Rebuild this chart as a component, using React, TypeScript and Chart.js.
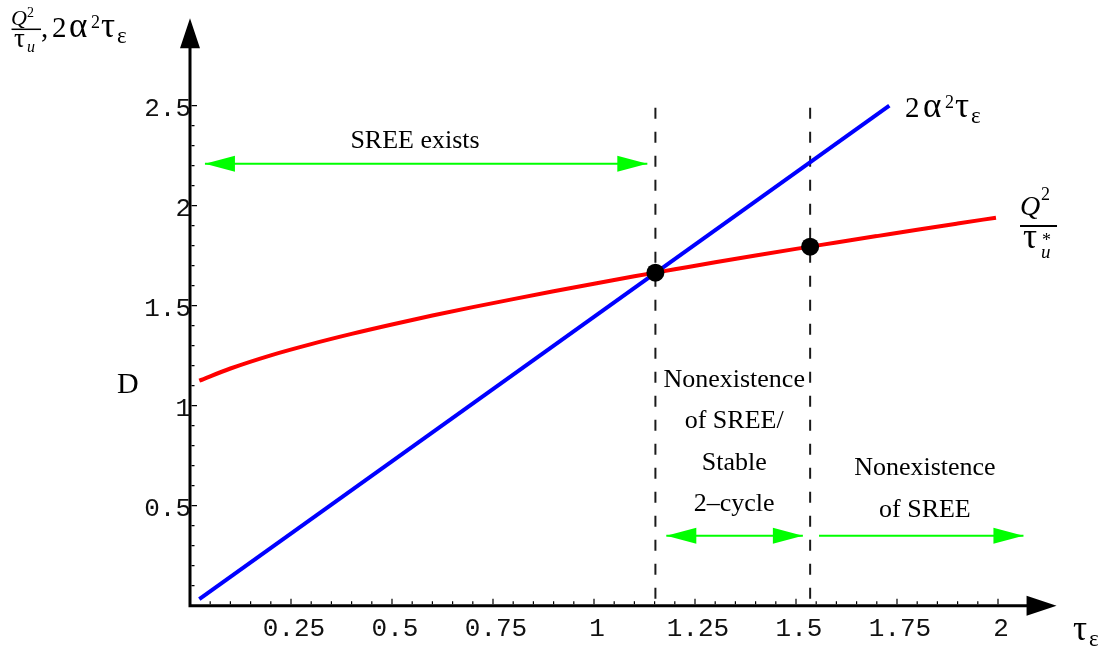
import React, { useEffect, useRef } from "react";
import { Chart, registerables } from "chart.js";

Chart.register(...registerables);

// ---- data ----
const redX = [0.023, 0.1, 0.2, 0.3, 0.4, 0.5, 0.6, 0.7, 0.8, 0.9, 1.0, 1.1, 1.2, 1.3, 1.4, 1.5, 1.6, 1.7, 1.8, 1.9, 1.995];
const redY = [1.125, 1.186, 1.252, 1.308, 1.359, 1.406, 1.451, 1.493, 1.533, 1.572, 1.61, 1.647, 1.682, 1.717, 1.751, 1.784, 1.816, 1.848, 1.88, 1.911, 1.94];
const blueX = [0.023, 1.731];
const blueY = [0.033, 2.5];
const crossX = [1.152, 1.535];
const crossY = [1.665, 1.795];
const dashTop = 2.49;

const arrowY = [2.21, 0.35, 0.35];
const arrowFrom = [0.037, 1.179, 1.557];
const arrowTo = [1.132, 1.517, 2.063];
const arrowBothEnds = [true, true, false];

const xTickValues = [0.25, 0.5, 0.75, 1, 1.25, 1.5, 1.75, 2];
const xTickLabels = ["0.25", "0.5", "0.75", "1", "1.25", "1.5", "1.75", "2"];
const yTickValues = [0.5, 1, 1.5, 2, 2.5];
const yTickLabels = ["0.5", "1", "1.5", "2", "2.5"];
const xMinorStep = 0.05;
const xMinorMax = 2.0;
const yMinorStep = 0.1;
const yMinorMax = 2.5;

const regionTexts = [["SREE exists"], ["Nonexistence", "of SREE/", "Stable", "2\u2013cycle"], ["Nonexistence", "of SREE"]];
const regionX = [0.557, 1.347, 1.819];
const regionY = [2.2885, 1.095, 0.6535];

const X_MIN = 0, X_MAX = 2.15, Y_MIN = 0, Y_MAX = 2.9;
const X_AXIS_TIP = 2.145, Y_AXIS_TIP = 2.937;

const GREEN = "#00ff00";
const SERIF = "'Liberation Serif', 'Times New Roman', serif";
const MONO = "'Liberation Mono', 'Courier New', monospace";

type Seg = [string, string, number, number];

function drawSegs(ctx: CanvasRenderingContext2D, x: number, y: number, segs: Seg[]) {
  ctx.textAlign = "left";
  ctx.textBaseline = "alphabetic";
  for (const [t, f, dx, dy] of segs) {
    ctx.font = f + " " + SERIF;
    ctx.fillText(t, x + dx, y + dy);
  }
}

function head(ctx: CanvasRenderingContext2D, x: number, y: number, dir: number) {
  ctx.beginPath();
  ctx.moveTo(x, y);
  ctx.lineTo(x - dir * 30, y - 8);
  ctx.lineTo(x - dir * 30, y + 8);
  ctx.closePath();
  ctx.fill();
}

const decor = {
  id: "decor",
  afterDatasetsDraw(chart: any) {
    const ctx: CanvasRenderingContext2D = chart.ctx;
    const xs = chart.scales.x;
    const ys = chart.scales.y;
    const px = (v: number) => xs.getPixelForValue(v);
    const py = (v: number) => ys.getPixelForValue(v);
    ctx.save();

    // green arrow heads
    ctx.fillStyle = GREEN;
    arrowY.forEach((y, i) => {
      const yy = py(y);
      head(ctx, px(arrowTo[i]), yy, 1);
      if (arrowBothEnds[i]) head(ctx, px(arrowFrom[i]), yy, -1);
    });

    // axes
    const x0 = px(0), y0 = py(0);
    const xt = px(X_AXIS_TIP), yt = py(Y_AXIS_TIP);
    ctx.strokeStyle = "#000";
    ctx.fillStyle = "#000";
    ctx.lineWidth = 3;
    ctx.lineJoin = "miter";
    ctx.lineCap = "butt";
    ctx.beginPath();
    ctx.moveTo(x0, yt + 28);
    ctx.lineTo(x0, y0);
    ctx.lineTo(xt - 28, y0);
    ctx.stroke();
    ctx.beginPath();
    ctx.moveTo(x0, yt);
    ctx.lineTo(x0 - 10, yt + 30);
    ctx.lineTo(x0 + 10, yt + 30);
    ctx.closePath();
    ctx.fill();
    ctx.beginPath();
    ctx.moveTo(xt, y0);
    ctx.lineTo(xt - 30, y0 - 10);
    ctx.lineTo(xt - 30, y0 + 10);
    ctx.closePath();
    ctx.fill();

    // ticks
    ctx.lineWidth = 1.2;
    ctx.beginPath();
    for (let k = 1; k * xMinorStep <= xMinorMax + 1e-9; k++) {
      const v = k * xMinorStep;
      const major = xTickValues.some((t) => Math.abs(t - v) < 1e-6);
      const x = px(v);
      ctx.moveTo(x, y0 - 1.5);
      ctx.lineTo(x, y0 - (major ? 7 : 4.5));
    }
    for (let k = 1; k * yMinorStep <= yMinorMax + 1e-9; k++) {
      const v = k * yMinorStep;
      const major = yTickValues.some((t) => Math.abs(t - v) < 1e-6);
      const y = py(v);
      ctx.moveTo(x0 + 1.5, y);
      ctx.lineTo(x0 + (major ? 7 : 4.5), y);
    }
    ctx.stroke();

    // tick labels
    ctx.font = "26px " + MONO;
    ctx.fillStyle = "#111";
    ctx.textBaseline = "alphabetic";
    ctx.textAlign = "center";
    xTickValues.forEach((v, i) => {
      ctx.fillText(xTickLabels[i], px(v) + 3, y0 + 30);
    });
    ctx.textAlign = "right";
    yTickValues.forEach((v, i) => {
      ctx.fillText(yTickLabels[i], x0 + 1, py(v) + 10);
    });
    ctx.fillStyle = "#000";

    // region texts
    ctx.font = "26px " + SERIF;
    ctx.textAlign = "center";
    regionTexts.forEach((lines, i) => {
      const x = px(regionX[i]);
      const y = py(regionY[i]);
      lines.forEach((ln, j) => ctx.fillText(ln, x, y + j * 41.5));
    });

    // "D"
    ctx.font = "30px " + SERIF;
    ctx.textAlign = "left";
    ctx.fillText("D", px(-0.1807), py(1.0635));

    // blue curve label 2 α² τ_ε
    drawSegs(ctx, px(1.77), py(2.445), [
      ["2", "29px", 0, 0],
      ["\u03b1", "35px", 18, 0],
      ["2", "18px", 40, -9],
      ["\u03c4", "35px", 50, 0],
      ["\u03b5", "23px", 66, 6],
    ]);

    // red curve label Q² / τ_u*
    const rx = px(2.0545), ry = py(1.8985);
    drawSegs(ctx, rx, ry, [
      ["Q", "italic 28px", 0, -11],
      ["2", "18px", 21, -26],
      ["\u03c4", "35px", 3, 22],
      ["*", "18px", 22, 19.5],
      ["u", "italic 19px", 21, 32],
    ]);
    ctx.lineWidth = 2;
    ctx.beginPath();
    ctx.moveTo(rx, ry);
    ctx.lineTo(rx + 37, ry);
    ctx.stroke();

    // y-axis title  Q²/τ_u , 2 α² τ_ε
    const tx = px(-0.443), ty = py(2.842);
    drawSegs(ctx, tx, ty, [
      ["Q", "italic 22px", 0, -12],
      ["2", "14px", 16, -20],
      ["\u03c4", "27px", 3, 10],
      ["u", "italic 16px", 16, 14.5],
      [",", "29px", 30, 0],
      ["2", "29px", 41, 0],
      ["\u03b1", "35px", 58, 0],
      ["2", "18px", 80, -9],
      ["\u03c4", "35px", 90, 0],
      ["\u03b5", "23px", 106, 6],
    ]);
    ctx.lineWidth = 1.5;
    ctx.beginPath();
    ctx.moveTo(tx + 0.5, ty - 8);
    ctx.lineTo(tx + 30, ty - 8);
    ctx.stroke();

    // x-axis title τ_ε
    drawSegs(ctx, px(2.1856), py(-0.1715), [
      ["\u03c4", "35px", 0, 0],
      ["\u03b5", "23px", 16, 6],
    ]);

    ctx.restore();
  },
};

export default function App() {
  const ref = useRef<HTMLCanvasElement | null>(null);

  useEffect(() => {
    if (!ref.current) return;
    const pts = (xs: number[], ys: number[]) => xs.map((x, i) => ({ x, y: ys[i] }));
    const datasets: any[] = [];

    datasets.push({
      label: "crossings",
      data: pts(crossX, crossY),
      showLine: false,
      pointRadius: 9,
      pointBackgroundColor: "#000",
      pointBorderWidth: 0,
      order: 0,
    });
    datasets.push({
      label: "Q2/tau_u*",
      data: pts(redX, redY),
      showLine: true,
      borderColor: "#ff0000",
      borderWidth: 4,
      pointRadius: 0,
      cubicInterpolationMode: "monotone",
      order: 1,
    });
    datasets.push({
      label: "2 alpha^2 tau",
      data: pts(blueX, blueY),
      showLine: true,
      borderColor: "#0000ff",
      borderWidth: 4,
      pointRadius: 0,
      order: 2,
    });
    crossX.forEach((x, i) => {
      datasets.push({
        label: "dash" + i,
        data: [
          { x, y: dashTop },
          { x, y: 0 },
        ],
        showLine: true,
        borderColor: "#1a1a1a",
        borderWidth: 2,
        borderDash: [11, 13],
        pointRadius: 0,
        order: 3,
      });
    });
    arrowY.forEach((y, i) => {
      datasets.push({
        label: "arrow" + i,
        data: [
          { x: arrowFrom[i], y },
          { x: arrowTo[i], y },
        ],
        showLine: true,
        borderColor: GREEN,
        borderWidth: 2,
        pointRadius: 0,
        order: 4,
      });
    });

    const chart = new Chart(ref.current, {
      type: "scatter",
      data: { datasets },
      options: {
        animation: false,
        responsive: false,
        maintainAspectRatio: false,
        events: [],
        layout: { padding: { left: 190, right: 57.4, top: 25.7, bottom: 44.3 } },
        scales: {
          x: { type: "linear", min: X_MIN, max: X_MAX, display: false },
          y: { type: "linear", min: Y_MIN, max: Y_MAX, display: false },
        },
        plugins: { legend: { display: false }, tooltip: { enabled: false } },
        elements: { line: { borderCapStyle: "butt" } },
      } as any,
      plugins: [decor],
    });
    return () => chart.destroy();
  }, []);

  return (
    <div style={{ position: "fixed", left: 0, top: 0, width: 1116, height: 650, background: "#fff" }}>
      <canvas ref={ref} width={1116} height={650} style={{ width: 1116, height: 650, display: "block" }} />
    </div>
  );
}
